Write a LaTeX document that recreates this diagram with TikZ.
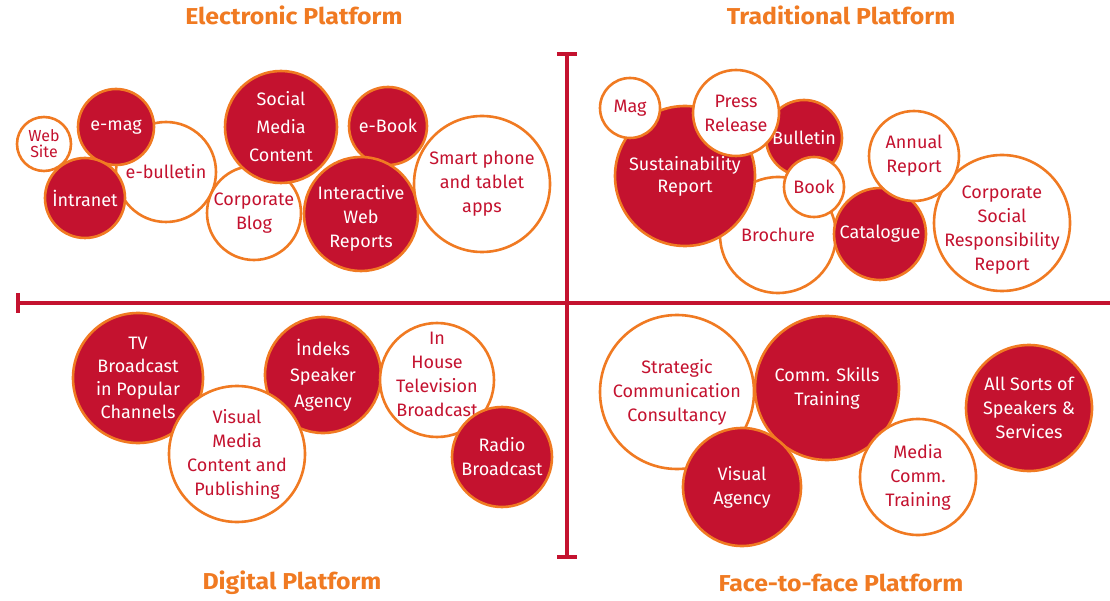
\documentclass[tikz,border=0pt]{standalone}
\usepackage{fontspec}
\setmainfont{Fira Sans}
\newfontfamily\ttlfont[FakeStretch=1.08]{Fira Sans}
\definecolor{cred}{HTML}{C4122F}
\definecolor{corg}{HTML}{F07A22}
\tikzset{
  bub/.style={circle, draw=corg, line width=2.6pt, inner sep=0pt, align=center, font=\fontsize{18}{24}\selectfont},
  rb/.style={bub, fill=cred, text=white},
  wb/.style={bub, fill=white, text=cred},
  txtw/.style={align=center, inner sep=0pt, text=white, font=\fontsize{18}{24}\selectfont},
  txtr/.style={align=center, inner sep=0pt, text=cred, font=\fontsize{18}{24}\selectfont},
  sm/.style={font=\fontsize{16}{16}\selectfont},
  ttl/.style={text=corg, font=\fontsize{23}{26}\ttlfont\bfseries},
  axisline/.style={draw=cred, line width=4pt}
}
\begin{document}
\begin{tikzpicture}[x=1pt,y=-1pt]
\useasboundingbox (0,0) rectangle (1110,601);
% axes
\coordinate (vT) at (567,54);
\coordinate (vB) at (567,557);
\coordinate (vTl) at (557,54);
\coordinate (vTr) at (577,54);
\coordinate (vBl) at (557,557);
\coordinate (vBr) at (577,557);
\coordinate (hL) at (18,303);
\coordinate (hR) at (1110,303);
\coordinate (hLt) at (18,293);
\coordinate (hLb) at (18,313);
\draw[axisline] (vT) -- (vB);
\draw[axisline] (vTl) -- (vTr);
\draw[axisline] (vBl) -- (vBr);
\draw[axisline] (hL) -- (hR);
\draw[axisline] (hLt) -- (hLb);
% titles
\node[ttl] (t1) at (294,15) {Electronic Platform};
\node[ttl] (t2) at (841,15) {Traditional Platform};
\node[ttl] (t3) at (292,583) {Digital Platform};
\node[ttl] (t4) at (841,583) {Face-to-face Platform};
% Electronic
\node[wb, sm, minimum size=54pt] (web) at (44,144) {Web\\Site};
\node[wb, minimum size=100pt] (ebul) at (166,172) {e-bulletin};
\node[rb, minimum size=76pt] (emag) at (116,127) {e-mag};
\node[rb, minimum size=80pt] (intra) at (85,198) {İntranet};
\node[wb, minimum size=94pt] (blog) at (254,213) {Corporate\\Blog};
\node[rb, minimum size=112pt, font=\fontsize{18}{28}\selectfont] (social) at (281,127) {Social\\Media\\Content};
\node[rb, minimum size=78pt] (ebook) at (388,126) {e-Book};
\node[rb, minimum size=114pt] (inter) at (361,214) {};
\node[txtw] (interT) at ([yshift=-4pt]inter.center) {Interactive\\Web\\Reports};
\node[wb, minimum size=136pt] (smart) at (482,184) {Smart phone\\and tablet\\apps};
% Traditional
\node[wb, minimum size=116pt] (broch) at (778,235) {Brochure};
\node[rb, minimum size=140pt, font=\fontsize{18}{22}\selectfont] (sust) at (685,176) {Sustainability\\Report};
\node[wb, minimum size=60pt] (mag) at (630,108) {Mag};
\node[rb, minimum size=76pt] (bull) at (804,138) {Bulletin};
\node[wb, minimum size=86pt] (press) at (736,113) {Press\\Release};
\node[wb, minimum size=60pt] (book) at (814,187) {Book};
\node[rb, minimum size=92pt] (cata) at (880,234) {Catalogue};
\node[wb, minimum size=136pt] (csr) at (1002,223) {};
\node[txtr] (csrT) at ([yshift=-7pt]csr.center) {Corporate\\Social\\Responsibility\\Report};
\node[wb, minimum size=90pt] (annual) at (914,156) {Annual\\Report};
% Digital
\node[rb, minimum size=130pt, font=\fontsize{18}{23}\selectfont] (tv) at (138,378) {TV\\Broadcast\\in Popular\\Channels};
\node[rb, minimum size=116pt, font=\fontsize{18}{26}\selectfont] (indeks) at (323,375) {İndeks\\Speaker\\Agency};
\node[wb, minimum size=136pt] (vmedia) at (237,454) {Visual\\Media\\Content and\\Publishing};
\node[wb, minimum size=114pt] (inhouse) at (437,380) {};
\node[txtr] (inhouseT) at ([yshift=6pt]inhouse.center) {In\\House\\Television\\Broadcast};
\node[rb, minimum size=100pt] (radio) at (502,457) {Radio\\Broadcast};
% Face-to-face
\node[wb, minimum size=154pt] (strat) at (677,392) {Strategic\\Communication\\Consultancy};
\node[rb, minimum size=144pt] (comm) at (827,388) {Comm. Skills\\Training};
\node[rb, minimum size=118pt] (vagency) at (742,487) {Visual\\Agency};
\node[rb, minimum size=126pt] (allsorts) at (1029,408) {All Sorts of\\Speakers \&\\Services};
\node[wb, minimum size=116pt] (mediacomm) at (918,477) {Media\\Comm.\\Training};
\end{tikzpicture}
\end{document}
